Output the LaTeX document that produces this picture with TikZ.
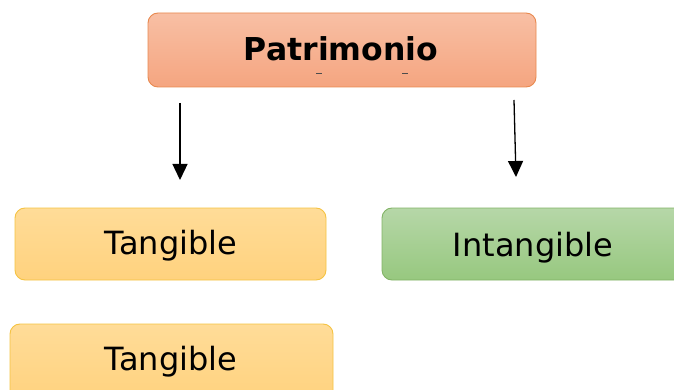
\documentclass[tikz,border=0pt]{standalone}
\usepackage{fontspec}
\setmainfont{DejaVu Sans}
\usetikzlibrary{arrows.meta}
\definecolor{orB}{HTML}{E8894F}
\definecolor{orT}{HTML}{F8BFA4}
\definecolor{orD}{HTML}{F5A580}
\definecolor{yeB}{HTML}{F5C342}
\definecolor{yeT}{HTML}{FFDC98}
\definecolor{yeD}{HTML}{FFD27E}
\definecolor{grB}{HTML}{82B366}
\definecolor{grT}{HTML}{B6D7A8}
\definecolor{grD}{HTML}{97C87F}
\tikzset{
  box/.style={rounded corners=10pt, line width=0.9pt, inner sep=0pt, align=center},
  orbox/.style={box, draw=orB, top color=orT, bottom color=orD},
  yebox/.style={box, draw=yeB, top color=yeT, bottom color=yeD},
  grbox/.style={box, draw=grB, top color=grT, bottom color=grD},
  lbl/.style={font=\fontsize{32}{38}\selectfont},
  arr/.style={line width=1.3pt, -{Triangle[width=15pt,length=16pt]}}
}
\begin{document}
\begin{tikzpicture}[x=1pt,y=-1pt]
\useasboundingbox (0,0) rectangle (674,390);
\clip (0,0) rectangle (674,390);
\node[orbox, minimum width=388pt, minimum height=74pt] (pat) at (342,50) {};
\node[font=\fontsize{31.5}{38}\selectfont\bfseries] (patt) at (341,49) {Patrimonio};
\draw[gray!60!black, line width=0.8pt] (316,73) -- (322,73) (402,73) -- (408,73);
\node[yebox, minimum width=311pt, minimum height=72pt] (t1) at (170.5,244) {};
\node[lbl] (t1t) at (171,246) {Tangible};
\node[grbox, minimum width=310pt, minimum height=72pt] (int) at (537,244) {};
\node[lbl] (intt) at (533,248) {Intangible};
\node[yebox, minimum width=323pt, minimum height=78pt] (t2) at (171.5,363) {};
\node[lbl] (t2t) at (171,362) {Tangible};
\coordinate (a1s) at (180,103);
\coordinate (a1e) at (180,180);
\coordinate (a2s) at (514,100);
\coordinate (a2e) at (516,177);
\draw[arr] (a1s) -- (a1e);
\draw[arr] (a2s) -- (a2e);
\end{tikzpicture}
\end{document}
